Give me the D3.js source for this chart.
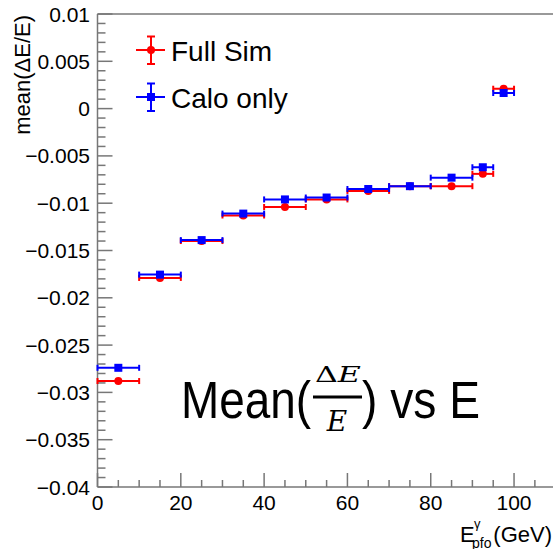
<!DOCTYPE html>
<html>
<head>
<meta charset="utf-8">
<script src="https://cdn.jsdelivr.net/npm/d3@7"></script>
<style>
  html, body { margin: 0; padding: 0; background: #fff; }
  svg text { font-family: "Liberation Sans", Arial, Helvetica, sans-serif; }
</style>
</head>
<body>
<div id="container"></div>
<script>
const width = 553;
const height = 549;

// bin edges (GeV) and mean(dE/E) per bin
const binEdges = [0, 10, 20, 30, 40, 50, 60, 70, 80, 90, 95, 100];
const fullSim = [-0.0288, -0.0179, -0.0140, -0.0113, -0.0104, -0.0096, -0.0087, -0.0082, -0.0082, -0.0069, 0.0021];
const caloOnly = [-0.0274, -0.01755, -0.0139, -0.0111, -0.0096, -0.0094, -0.0085, -0.0082, -0.0073, -0.0062, 0.00165];
const xTicks = [0, 20, 40, 60, 80, 100];
const yTicks = [0.01, 0.005, 0, -0.005, -0.01, -0.015, -0.02, -0.025, -0.03, -0.035, -0.04];
const seriesNames = ["Full Sim", "Calo only"];
const seriesColors = ["#ff0000", "#0000ff"];

const svg = d3.select("#container").append("svg")
  .attr("width", width)
  .attr("height", height);

const x = d3.scaleLinear().domain([0, 110]).range([97.5, 555.7]);
const y = d3.scaleLinear().domain([-0.04, 0.01]).range([487, 14]);
const axisColor = "#777";

// frame: left, bottom, top
const frame = svg.append("g").attr("stroke", axisColor).attr("stroke-width", 1.5).attr("fill", "none");
frame.append("line").attr("x1", x(0)).attr("x2", x(0)).attr("y1", y(0.01)).attr("y2", y(-0.04));
frame.append("line").attr("x1", x(0)).attr("x2", width).attr("y1", y(-0.04)).attr("y2", y(-0.04));
frame.append("line").attr("x1", x(0)).attr("x2", width).attr("y1", y(0.01)).attr("y2", y(0.01));

// y ticks (inward)
const yMinor = d3.range(0, 51).map(i => -0.04 + i * 0.001);
frame.selectAll(".ymin").data(yMinor).enter().append("line")
  .attr("x1", x(0)).attr("x2", d => x(0) + (Math.round(d * 1000) % 5 === 0 ? 15 : 8))
  .attr("y1", d => y(d)).attr("y2", d => y(d));

// x ticks (inward)
const xMinor = d3.range(0, 111, 5);
frame.selectAll(".xmin").data(xMinor).enter().append("line")
  .attr("x1", d => x(d)).attr("x2", d => x(d))
  .attr("y1", y(-0.04)).attr("y2", d => y(-0.04) - (d % 20 === 0 ? 14 : 7));

const fmt = d => (d < 0 ? "\u2212" : "") + d3.format("~g")(Math.abs(d));
svg.append("g").selectAll("text").data(yTicks).enter().append("text")
  .attr("x", 90).attr("y", d => y(d) + 7.5)
  .attr("text-anchor", "end").attr("font-size", 21)
  .text(d => fmt(d));

svg.append("g").selectAll("text").data(xTicks).enter().append("text")
  .attr("x", d => x(d)).attr("y", 510)
  .attr("text-anchor", "middle").attr("font-size", 21)
  .text(d => d);

// axis titles
svg.append("text")
  .attr("transform", "translate(30,15) rotate(-90)")
  .attr("text-anchor", "end").attr("font-size", 22)
  .text("mean(\u0394E/E)");

const xt = svg.append("g").attr("font-size", 22);
xt.append("text").attr("x", 460).attr("y", 542).text("E");
xt.append("text").attr("x", 474).attr("y", 528).attr("font-size", 13).text("\u03b3");
xt.append("text").attr("x", 472).attr("y", 548).attr("font-size", 14).text("pfo");
xt.append("text").attr("x", 552).attr("y", 542).attr("text-anchor", "end").text("(GeV)");

// points
function drawSeries(vals, color, shape) {
  const g = svg.append("g").attr("stroke", color).attr("fill", color).attr("stroke-width", 2);
  vals.forEach((v, i) => {
    const x0 = x(binEdges[i]), x1 = x(binEdges[i + 1]);
    const xc = x((binEdges[i] + binEdges[i + 1]) / 2), yc = y(v);
    g.append("line").attr("x1", x0).attr("x2", x1).attr("y1", yc).attr("y2", yc);
    g.append("line").attr("x1", x0).attr("x2", x0).attr("y1", yc - 3).attr("y2", yc + 3);
    g.append("line").attr("x1", x1).attr("x2", x1).attr("y1", yc - 3).attr("y2", yc + 3);
    if (shape === "circle") {
      g.append("circle").attr("cx", xc).attr("cy", yc).attr("r", 4).attr("stroke", "none");
    } else {
      g.append("rect").attr("x", xc - 4).attr("y", yc - 4).attr("width", 8).attr("height", 8).attr("stroke", "none");
    }
  });
}
drawSeries(fullSim, seriesColors[0], "circle");
drawSeries(caloOnly, seriesColors[1], "square");

// legend
const legY = [50, 97];
seriesNames.forEach((name, i) => {
  const g = svg.append("g").attr("stroke", seriesColors[i]).attr("fill", seriesColors[i]).attr("stroke-width", 2);
  const cy = legY[i];
  g.append("line").attr("x1", 136).attr("x2", 165).attr("y1", cy).attr("y2", cy);
  g.append("line").attr("x1", 151).attr("x2", 151).attr("y1", cy - 13.5).attr("y2", cy + 14);
  g.append("line").attr("x1", 147).attr("x2", 155).attr("y1", cy - 13.5).attr("y2", cy - 13.5);
  g.append("line").attr("x1", 147).attr("x2", 155).attr("y1", cy + 14).attr("y2", cy + 14);
  if (i === 0) g.append("circle").attr("cx", 151).attr("cy", cy).attr("r", 4).attr("stroke", "none");
  else g.append("rect").attr("x", 147).attr("y", cy - 4).attr("width", 8).attr("height", 8).attr("stroke", "none");
  svg.append("text").attr("x", 171).attr("y", cy + 11).attr("font-size", 28).text(name);
});

// big label
const lab = svg.append("g").attr("fill", "#000");
lab.append("text").attr("x", 181).attr("y", 418).attr("font-size", 51)
  .attr("textLength", 130).attr("lengthAdjust", "spacingAndGlyphs").text("Mean(");
lab.append("text").attr("x", 338).attr("y", 382).attr("font-size", 23)
  .attr("text-anchor", "middle").style("font-family", "'DejaVu Serif', serif")
  .attr("textLength", 46).attr("lengthAdjust", "spacingAndGlyphs")
  .html("\u0394<tspan font-style='italic'>E</tspan>");
lab.append("line").attr("x1", 313).attr("x2", 362).attr("y1", 397).attr("y2", 397)
  .attr("stroke", "#000").attr("stroke-width", 3);
lab.append("text").attr("x", 337).attr("y", 431).attr("font-size", 28)
  .attr("text-anchor", "middle").style("font-family", "'DejaVu Serif', serif")
  .attr("font-style", "italic").text("E");
lab.append("text").attr("x", 362).attr("y", 418).attr("font-size", 51)
  .attr("textLength", 118).attr("lengthAdjust", "spacingAndGlyphs").text(") vs E");
</script>
</body>
</html>
